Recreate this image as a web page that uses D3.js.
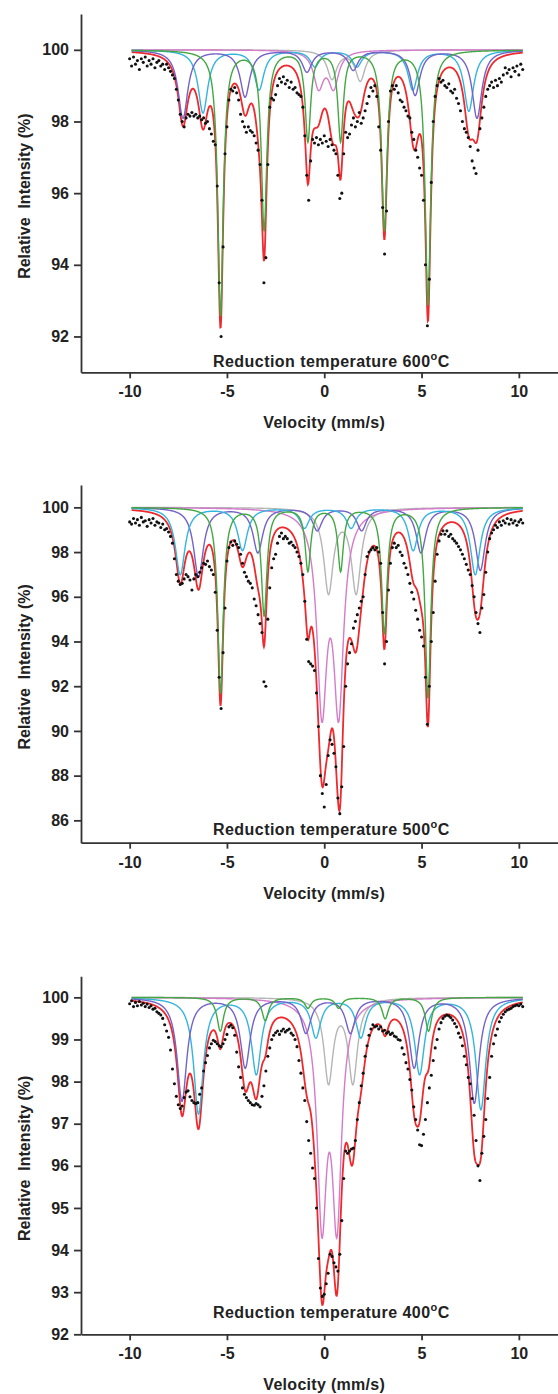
<!DOCTYPE html>
<html><head><meta charset="utf-8">
<script src="https://cdn.jsdelivr.net/npm/d3@7"></script>
<style>
body{margin:0;background:#fff}
svg{display:block}
text{font-family:"Liberation Sans",Arial,Helvetica,sans-serif;font-weight:bold;fill:#222}
</style></head>
<body><svg id="chart" width="558" height="1394"></svg>
<script>
// ---------- observed spectra (velocity -10.0 ... 10.2 mm/s, step 0.1) ----------
const velStart = -10, velStep = 0.1;
const obs600 = [99.75,99.55,99.8,99.6,99.7,99.45,99.75,99.65,99.8,99.55,99.7,99.6,99.75,99.5,99.65,99.7,99.55,99.6,99.45,99.6,99.5,
99.4,99.3,99.2,98.9,98.6,98.2,98.0,97.85,98.1,98.2,
98.15,98.25,98.15,98.2,98.1,98.15,98.05,98.1,97.95,98.0,
97.8,97.65,97.45,97.35,96.2,93.5,92.0,94.5,97.1,97.85,
98.6,98.9,98.85,98.95,98.8,98.6,98.2,98.0,97.85,97.7,
97.85,97.75,97.7,97.6,97.4,97.2,96.8,95.8,93.5,94.2,
96.8,98.4,98.65,98.6,98.75,99.0,99.2,99.1,99.25,99.05,
99.15,98.95,99.1,98.9,98.95,98.8,98.75,98.7,98.4,97.6,
96.5,95.8,96.9,97.5,97.4,97.55,97.35,97.5,97.4,97.6,
97.45,97.3,97.5,97.35,97.2,97.1,96.5,95.85,96.0,97.1,
97.7,97.55,97.65,97.9,98.1,97.85,98.0,98.25,97.95,98.1,
98.3,98.5,98.7,98.95,98.85,99.0,98.7,97.85,97.2,95.6,
94.3,95.5,98.0,98.85,99.0,98.9,99.0,98.8,98.6,98.55,
98.4,98.3,98.15,98.1,97.7,97.5,97.2,97.0,96.7,96.5,
95.8,94.0,92.3,93.6,96.3,98.0,98.7,99.0,99.2,99.1,
99.15,99.0,98.95,99.05,98.85,98.8,98.9,98.65,98.5,98.3,
98.0,97.8,97.7,97.55,97.3,96.9,96.7,96.55,97.2,97.8,
98.1,98.4,98.7,98.9,99.0,99.1,98.95,99.15,99.0,99.2,
99.1,99.3,99.5,99.35,99.45,99.25,99.5,99.4,99.55,99.3,
99.6,99.45];
const obs500 = [99.35,99.25,99.5,99.3,99.45,99.2,99.55,99.35,99.4,99.15,99.45,99.3,99.5,99.2,99.35,99.3,99.1,99.25,99.0,99.05,98.9,
98.7,98.4,97.7,97.0,96.7,96.55,96.6,96.8,97.0,96.9,
96.75,96.3,96.8,97.0,96.9,97.1,97.3,97.5,97.45,97.6,
97.35,97.2,97.0,96.2,94.5,92.4,91.0,93.5,95.5,97.6,
98.2,98.45,98.3,98.5,98.35,98.2,97.9,97.5,97.1,96.9,
96.7,96.6,96.4,95.9,95.6,95.2,94.8,94.4,92.2,92.0,
95.0,96.4,97.3,97.7,97.9,98.4,98.7,98.85,98.6,98.7,
98.6,98.4,98.45,98.3,98.2,98.0,97.8,97.5,97.0,95.8,
94.1,93.1,93.0,92.9,92.7,91.7,90.2,88.0,87.2,86.6,
87.6,88.9,89.6,89.4,89.0,88.4,87.0,86.3,87.5,89.3,
92.0,93.0,93.5,93.9,94.6,94.9,95.2,95.5,95.8,96.0,
97.0,97.8,98.0,98.1,98.2,98.1,98.2,98.0,97.5,95.3,
93.0,94.0,96.3,97.5,98.2,98.4,98.2,98.3,98.0,97.85,
97.5,97.3,97.0,96.6,96.2,95.9,95.4,95.0,94.5,94.2,
93.8,92.4,90.3,92.0,94.0,95.3,96.7,97.9,98.5,98.8,
98.95,98.8,98.95,98.7,98.8,98.6,98.5,98.4,98.25,98.1,
97.9,97.7,97.45,97.2,97.0,96.5,96.0,95.3,94.8,94.4,
95.5,96.1,97.1,98.0,98.6,98.85,99.0,99.2,99.1,99.35,
99.2,99.4,99.3,99.5,99.25,99.45,99.3,99.4,99.2,99.35,
99.45,99.3];
const obs400 = [99.85,99.92,99.78,99.88,99.8,99.9,99.82,99.86,99.78,99.84,99.76,99.8,99.72,99.74,99.66,99.62,99.58,99.5,99.35,99.2,99.05,
98.75,98.3,97.95,97.65,97.45,97.36,97.42,97.62,97.75,97.78,
97.64,97.55,97.5,97.48,97.5,97.7,97.85,98.25,98.45,98.62,
98.8,98.9,98.98,98.95,98.9,98.85,98.83,98.9,99.0,99.12,
99.3,99.34,99.28,99.1,98.7,98.35,98.1,97.85,97.7,97.62,
97.55,97.5,97.45,97.44,97.48,97.45,97.4,97.65,97.9,98.25,
98.6,98.8,99.0,99.1,99.16,99.2,99.12,99.2,99.25,99.18,
99.22,99.25,99.15,99.1,99.0,98.83,98.5,98.2,97.85,97.55,
97.05,96.6,96.3,95.95,95.7,95.0,93.8,93.1,92.9,92.95,
93.2,93.45,93.9,93.85,93.7,93.6,93.5,93.9,94.7,95.7,
96.35,96.3,96.35,96.4,96.42,96.6,97.1,97.5,97.9,98.2,
98.6,98.85,99.1,99.25,99.35,99.3,99.32,99.25,99.3,99.2,
99.22,99.15,99.18,99.12,99.15,99.08,99.06,99.0,98.98,98.8,
98.65,98.45,98.3,98.05,97.8,97.4,97.1,96.85,96.5,96.48,
96.75,97.1,97.5,97.85,98.15,98.5,98.8,99.0,99.25,99.4,
99.5,99.55,99.58,99.56,99.52,99.46,99.38,99.3,99.15,99.05,
98.85,98.6,98.4,98.1,97.95,97.6,97.2,96.6,96.0,95.65,
96.3,96.7,97.1,97.6,98.1,98.6,98.9,99.1,99.25,99.42,
99.52,99.6,99.66,99.7,99.72,99.74,99.78,99.8,99.82,99.8,
99.84,99.78];

// ---------- fitted sub-spectra: line positions (mm/s) and depths (%) ----------
// 600 °C
const fe600Pos = [-5.33,-3.09,-0.84,0.84,3.09,5.33], fe600Dep = [7.4,5.0,2.5,2.5,5.0,7.1];
const sA600Pos = [-7.26,-4.07,-0.89,1.49,4.67,7.85], sA600Dep = [1.9,1.3,0.6,0.55,1.25,1.9];
const sB600Pos = [-6.23,-3.35,-0.48,1.68,4.55,7.43], sB600Dep = [1.75,1.1,0.45,0.45,1.1,1.7];
const d1600Pos = [-0.29,0.48], d1600Dep = [1.0,1.0];
const d2600Pos = [0.4,1.85],  d2600Dep = [0.8,0.85];
const hw600 = [0.17,0.3,0.3,0.31,0.3];
// 500 °C
const fe500Pos = [-5.33,-3.09,-0.84,0.84,3.09,5.33], fe500Dep = [8.3,4.8,2.8,2.8,5.6,8.5];
const sA500Pos = [-7.4,-4.2,-1.02,1.38,4.57,7.76],   sA500Dep = [3.0,1.9,0.9,0.9,1.9,3.0];
const sB500Pos = [-6.46,-3.41,-0.36,1.92,4.97,8.02], sB500Dep = [3.1,2.0,1.0,1.0,2.0,2.8];
const d1500Pos = [-0.12,0.74], d1500Dep = [8.63,8.63];
const d2500Pos = [0.22,1.64],  d2500Dep = [3.75,3.75];
const hw500 = [0.17,0.3,0.3,0.308,0.296];
// 400 °C
const fe400Pos = [-5.34,-3.03,-0.84,0.74,3.13,5.36], fe400Dep = [0.8,0.55,0.25,0.25,0.5,0.8];
const sA400Pos = [-7.31,-4.06,-0.94,1.34,4.62,7.71], sA400Dep = [2.45,1.65,0.82,0.82,1.65,2.5];
const sB400Pos = [-6.46,-3.49,-0.43,1.88,4.9,8.05],  sB400Dep = [2.75,1.8,0.92,0.92,1.8,2.65];
const d1400Pos = [-0.12,0.65], d1400Dep = [5.08,5.08];
const d2400Pos = [0.22,1.47],  d2400Dep = [1.98,1.98];
const hw400 = [0.2,0.3,0.3,0.29,0.284];

const temps = ["600","500","400"];
const yTicks600 = [92,94,96,98,100];
const yTicks500 = [86,88,90,92,94,96,98,100];
const yTicks400 = [92,93,94,95,96,97,98,99,100];
const xTicks = [-10,-5,0,5,10];

// ---------- styling / layout ----------
const colFe = "#43a843", colA = "#7363c9", colB = "#33b5dd", colD1 = "#d47bcb", colD2 = "#b5b5b5", colFit = "#ee2a2e";

const panels = [
  {temp:temps[0], top:14,    bottom:372.3,  yDom:[91,101],   yTicks:yTicks600, obs:obs600, titleY:366.5,
   comps:[[d2600Pos,d2600Dep,hw600[4],colD2],[d1600Pos,d1600Dep,hw600[3],colD1],[sB600Pos,sB600Dep,hw600[2],colB],[sA600Pos,sA600Dep,hw600[1],colA],[fe600Pos,fe600Dep,hw600[0],colFe]]},
  {temp:temps[1], top:485,   bottom:842.7,  yDom:[85,101],   yTicks:yTicks500, obs:obs500, titleY:835,
   comps:[[d2500Pos,d2500Dep,hw500[4],colD2],[d1500Pos,d1500Dep,hw500[3],colD1],[sB500Pos,sB500Dep,hw500[2],colA],[sA500Pos,sA500Dep,hw500[1],colB],[fe500Pos,fe500Dep,hw500[0],colFe]]},
  {temp:temps[2], top:976.3, bottom:1334.3, yDom:[92,100.5], yTicks:yTicks400, obs:obs400, titleY:1318.3,
   comps:[[d2400Pos,d2400Dep,hw400[4],colD2],[d1400Pos,d1400Dep,hw400[3],colD1],[sB400Pos,sB400Dep,hw400[2],colB],[sA400Pos,sA400Dep,hw400[1],colA],[fe400Pos,fe400Dep,hw400[0],colFe]]}
];

const svg = d3.select("#chart");
const x = d3.scaleLinear().domain([-12.5,12.5]).range([81,567.5]);
const vFine = d3.range(-9.9, 10.2001, 0.02);
const lor = (v, pos, dep, hw) => d3.sum(pos, (p,i) => dep[i] / (1 + ((v-p)/hw)**2));

panels.forEach(P => {
  const y = d3.scaleLinear().domain(P.yDom).range([P.bottom, P.top]);
  const g = svg.append("g");
  const line = d3.line().x(d => x(d[0])).y(d => y(d[1]));

  // total fit
  const total = vFine.map(v => [v, 100 - d3.sum(P.comps, c => lor(v, c[0], c[1], c[2]))]);
  g.append("path").attr("d", line(total)).attr("fill","none").attr("stroke",colFit).attr("stroke-width",1.8);

  // sub-spectra
  P.comps.forEach(c => {
    const pts = vFine.map(v => [v, 100 - lor(v, c[0], c[1], c[2])]);
    g.append("path").attr("d", line(pts)).attr("fill","none").attr("stroke",c[3]).attr("stroke-width",1.4);
  });

  // observed points
  g.selectAll("circle.pt").data(P.obs).join("circle")
    .attr("cx",(d,i) => x(velStart + i*velStep)).attr("cy", d => y(d)).attr("r",1.55).attr("fill","#111");

  // axes
  const ax = g.append("g").attr("transform",`translate(0,${P.bottom})`)
    .call(d3.axisBottom(x).tickValues(xTicks).tickFormat(d => String(d)).tickSize(6).tickSizeOuter(0).tickPadding(7.5));
  const ay = g.append("g").attr("transform",`translate(81,0)`)
    .call(d3.axisLeft(y).tickValues(P.yTicks).tickFormat(d => String(d)).tickSize(7).tickSizeOuter(0).tickPadding(5));
  [ax, ay].forEach(a => {
    a.select(".domain").attr("stroke","#333").attr("stroke-width",1.8);
    a.selectAll(".tick line").attr("stroke","#333").attr("stroke-width",1.8);
    a.selectAll(".tick text").attr("font-size",16).attr("font-weight","bold").attr("fill","#222")
      .attr("font-family","Liberation Sans, Arial, sans-serif");
  });

  // axis titles
  g.append("text").attr("x", x(0)).attr("y", P.bottom + 56).attr("text-anchor","middle")
    .attr("font-size",16).attr("letter-spacing",0.3).text("Velocity (mm/s)");
  g.append("text").attr("transform",`translate(30,${(P.top+P.bottom)/2 + 3}) rotate(-90)`)
    .attr("text-anchor","middle").attr("font-size",16).style("white-space","pre")
    .text("Relative  Intensity (%)");

  // panel title
  const t = g.append("text").attr("x",213).attr("y",P.titleY).attr("font-size",16).attr("letter-spacing",0.45);
  t.append("tspan").text(`Reduction temperature ${P.temp}`);
  t.append("tspan").attr("font-size",11).attr("dy",-7).text("o");
  t.append("tspan").attr("dy",7).text("C");
});
</script>
</body></html>
